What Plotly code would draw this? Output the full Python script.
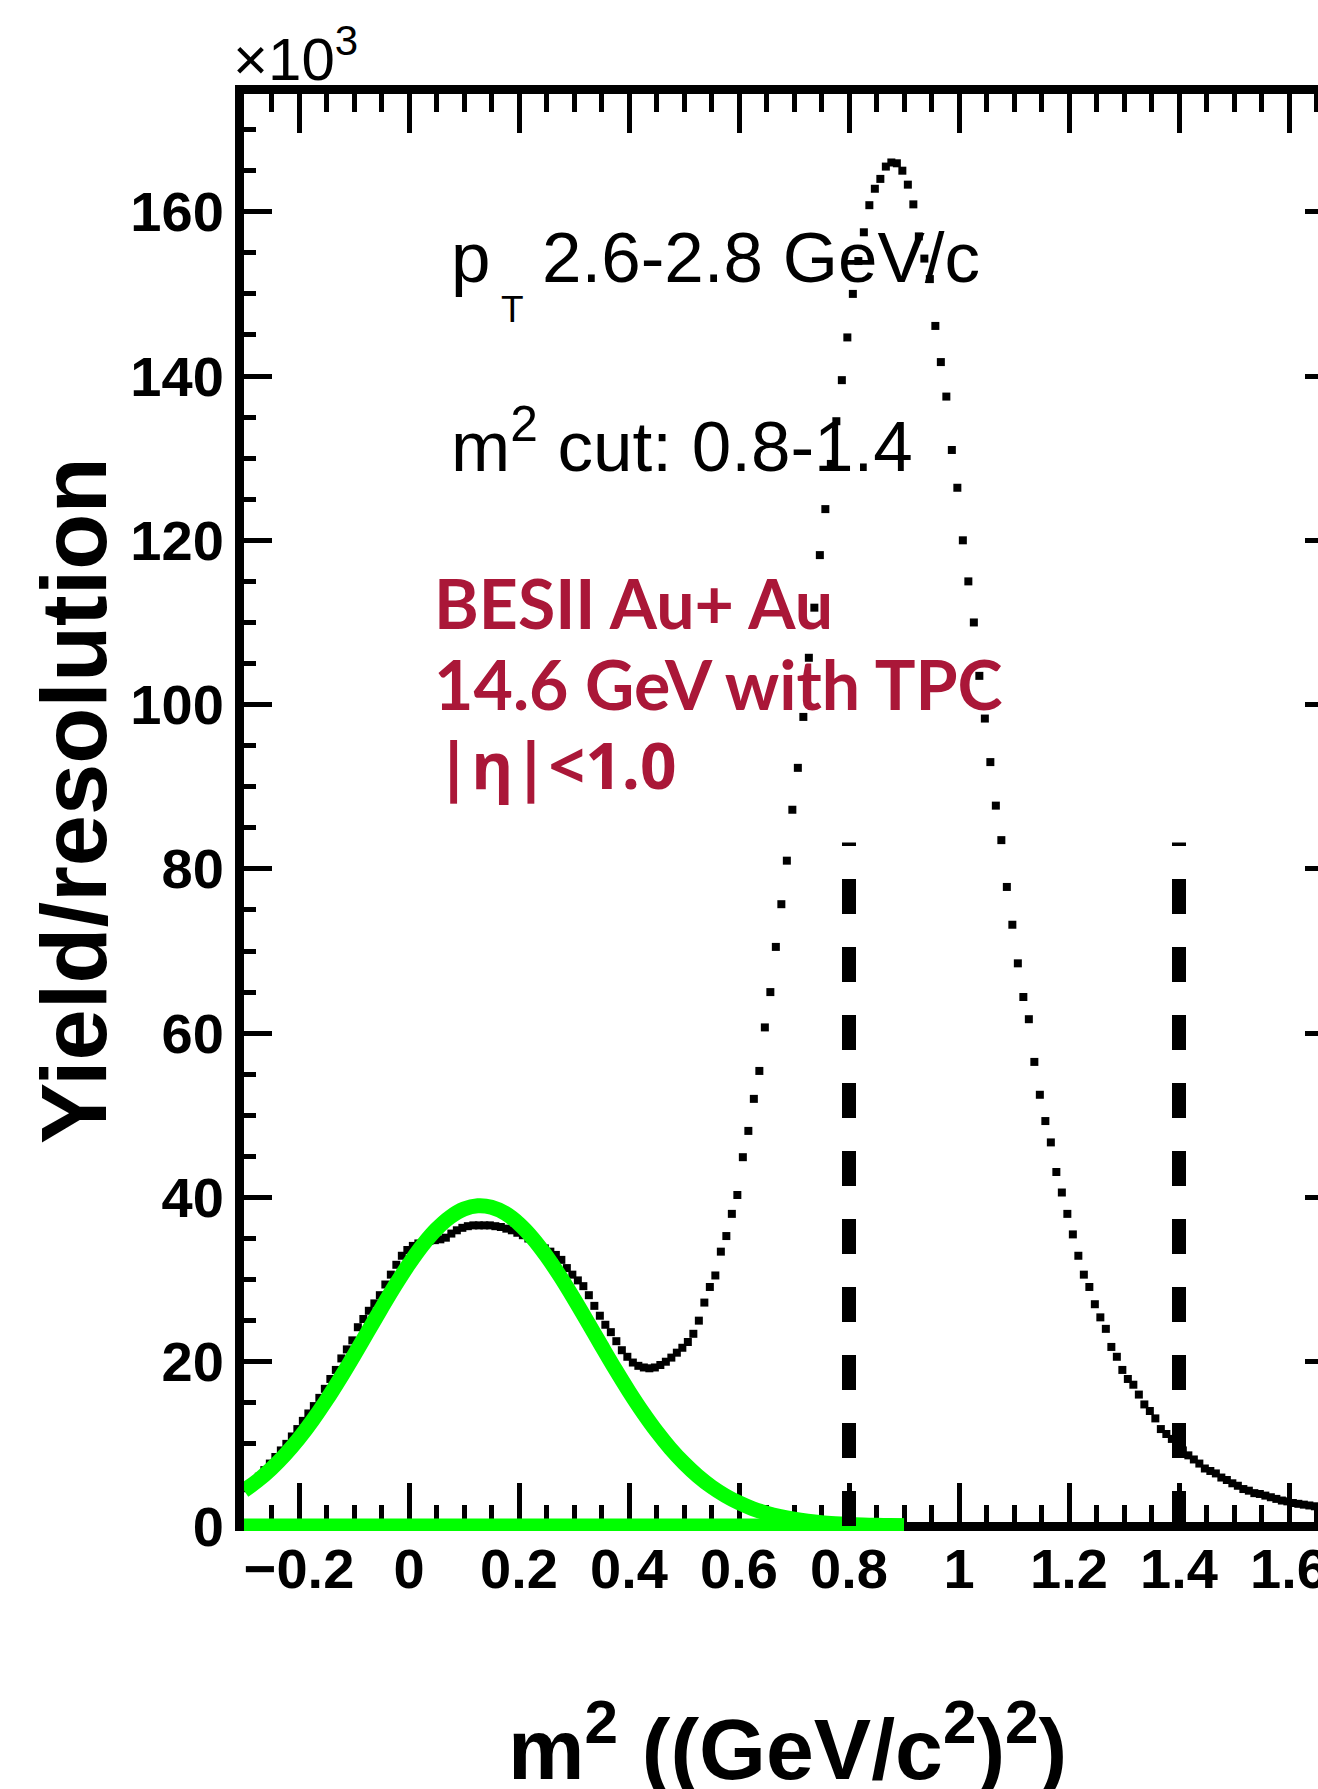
import plotly.graph_objects as go

# ---------------- data ----------------
# m^2 histogram: bin centres start at BIN_START, width BIN_WIDTH; yields in units of 10^3
BIN_START = -0.293
BIN_WIDTH = 0.01
yield_k = [
    4.6, 5.3, 6.0, 6.8, 7.6, 8.4, 9.2, 10.0, 10.9, 11.8,
    12.8, 13.7, 14.6, 15.6, 16.7, 17.9, 19.0, 20.4, 21.5, 22.6,
    24.2, 25.2, 26.2, 27.1, 28.1, 29.4, 30.6, 31.8, 32.9, 33.6,
    34.1, 34.4, 34.6, 34.7, 34.8, 34.9, 35.1, 35.6, 36.0, 36.3,
    36.5, 36.6, 36.6, 36.6, 36.6, 36.5, 36.4, 36.2, 36.0, 35.7,
    35.4, 35.0, 34.6, 34.2, 33.8, 33.4, 33.0, 32.4, 31.4, 30.6,
    29.9, 29.2, 28.1, 26.8, 25.6, 24.5, 23.6, 22.5, 21.4, 20.6,
    19.9, 19.5, 19.3, 19.2, 19.3, 19.6, 20.0, 20.5, 21.1, 21.7,
    22.4, 23.4, 25.0, 27.2, 29.1, 30.5, 33.4, 35.3, 38.0, 40.3,
    44.9, 48.1, 52.0, 55.4, 60.7, 65.0, 70.5, 75.7, 81.0, 87.2,
    92.3, 98.5, 105.7, 111.8, 118.2, 123.8, 129.3, 134.5, 139.5, 144.7,
    150.0, 154.0, 157.5, 160.8, 162.8, 164.0, 165.5, 166.0, 165.9, 165.0,
    163.3, 160.9, 157.0, 154.3, 151.8, 146.1, 141.7, 137.5, 131.0, 126.4,
    120.0, 115.0, 110.0, 103.5, 98.3, 93.0, 87.7, 83.5, 77.8, 73.2,
    68.5, 64.4, 61.7, 56.5, 52.5, 49.3, 46.7, 43.1, 40.6, 38.0,
    35.5, 32.9, 30.6, 29.1, 27.0, 25.4, 24.0, 21.8, 20.6, 19.0,
    17.9, 17.2, 16.0, 14.8, 14.0, 13.1, 11.8, 11.2, 10.6, 9.7,
    9.2, 8.6, 8.1, 7.6, 7.0, 6.7, 6.4, 5.9, 5.6, 5.2,
    4.9, 4.5, 4.3, 4.0, 3.9, 3.7, 3.5, 3.3, 3.1, 3.0,
    2.8, 2.7, 2.6, 2.5, 2.4,
]
m2_bins = [round(BIN_START + BIN_WIDTH * i, 3) for i in range(len(yield_k))]

# green fit curve (sampled every 0.025 from -0.3 to 0.9)
FIT_START = -0.3
FIT_STEP = 0.025
fit_y = [
    4.32, 5.54, 7.00, 8.71, 10.67, 12.89, 15.34, 17.99, 20.78, 23.65,
    26.52, 29.30, 31.89, 34.21, 36.14, 37.62, 38.59, 38.99, 38.81, 38.07,
    36.79, 35.03, 32.86, 30.37, 27.65, 24.81, 21.93, 19.09, 16.38, 13.85,
    11.53, 9.46, 7.65, 6.09, 4.78, 3.70, 2.82, 2.11, 1.56, 1.14,
    0.82, 0.58, 0.40, 0.28, 0.19, 0.12, 0.08, 0.05, 0.03,
]
fit_x = [round(FIT_START + FIT_STEP * i, 3) for i in range(len(fit_y))]

# flat green baseline
base_x = [-0.3, 0.9]
base_y = [0, 0]

# m^2 cut lines
cut_x = [0.8, 1.4]
cut_top = 83.2

# ---------------- geometry ----------------
W, H = 1318, 1789
ML, MT, MR = 244, 94, 0
Y0_PX = 1526          # pixel row of y = 0
PLOT_BOTTOM = 1531    # plot area extends a few px below y = 0
MB = H - PLOT_BOTTOM
PX_X = 550.0          # px per unit m^2
PX_Y = 8.214          # px per 10^3 counts
XMIN = -0.3
XMAX = XMIN + (W - ML - MR) / PX_X
YMIN = -(PLOT_BOTTOM - Y0_PX) / PX_Y
YMAX = (Y0_PX - MT) / PX_Y
PLOT_H = PLOT_BOTTOM - MT
PLOT_W = W - ML - MR


def dx(px):
    return XMIN + (px - ML) / PX_X


def dy(py):
    return (Y0_PX - py) / PX_Y


def pxp(px):
    return (px - ML) / PLOT_W


def pyp(py):
    return (PLOT_BOTTOM - py) / PLOT_H


fig = go.Figure()

# in-plot black labels (drawn below the data, like the reference)
# baseline = point + 0.25*size for textposition 'middle right'
lab_txt = ["p", "T", "2.6-2.8 GeV/c", "m<sup>2</sup> cut: 0.8-1.4"]
lab_size = [71, 37, 71, 71]
lab_xpx = [451, 501, 542, 451]
lab_base = [281.7, 322, 281.7, 471]
fig.add_trace(go.Scatter(
    x=[dx(p) for p in lab_xpx],
    y=[dy(b - 0.25 * s) for b, s in zip(lab_base, lab_size)],
    text=lab_txt,
    mode="text", textposition="middle right",
    textfont=dict(family="Liberation Sans", size=lab_size, color="black"),
    hoverinfo="skip", showlegend=False))

# red labels
RED = "#AA1738"
red_fs = 68
red_txt = ["BESII Au+ Au", "14.6 GeV with TPC"]
red_base = [629, 710]
fig.add_trace(go.Scatter(
    x=[dx(434)] * 2,
    y=[dy(b - 0.25 * red_fs) for b in red_base],
    text=red_txt,
    mode="text", textposition="middle right",
    textfont=dict(family="Lato", size=red_fs, color=RED, weight="bold"),
    hoverinfo="skip", showlegend=False))
eta_fs = 64
fig.add_trace(go.Scatter(
    x=[dx(436)], y=[dy(789 - 0.25 * eta_fs)], text=["|η|<1.0"],
    mode="text", textposition="middle right",
    textfont=dict(family="Open Sans", size=eta_fs, color=RED, weight="bold"),
    hoverinfo="skip", showlegend=False))

# histogram points
fig.add_trace(go.Scatter(
    x=m2_bins, y=yield_k, mode="markers",
    marker=dict(symbol="square", size=8, color="black", line=dict(width=0)),
    showlegend=False))

# green fit + baseline
fig.add_trace(go.Scatter(
    x=fit_x, y=fit_y, mode="lines",
    line=dict(color="rgb(0,255,0)", width=15, shape="spline"),
    showlegend=False))
fig.add_trace(go.Scatter(
    x=base_x, y=base_y, mode="lines", line=dict(color="rgb(0,255,0)", width=15),
    showlegend=False))

# cut lines
for cx in cut_x:
    fig.add_trace(go.Scatter(
        x=[cx, cx], y=[0, cut_top], mode="lines",
        line=dict(color="black", width=14, dash="35px,33px"),
        showlegend=False))

# dummy trace carrying the top / right tick axes
fig.add_trace(go.Scatter(x=[XMIN], y=[0], xaxis="x2", yaxis="y2", mode="markers",
                         marker=dict(opacity=0), hoverinfo="skip", showlegend=False))

tickfont = dict(family="Liberation Sans", size=56, color="black", weight="bold")

fig.update_layout(
    template="none",
    width=W, height=H,
    margin=dict(l=ML, r=MR, t=MT, b=MB, pad=0),
    paper_bgcolor="white", plot_bgcolor="white",
    showlegend=False,
    xaxis=dict(range=[XMIN, XMAX], showline=False,
               ticks="inside", ticklen=48, tickwidth=5, tickcolor="black",
               tick0=0, dtick=0.2,
               minor=dict(ticks="inside", ticklen=26, tickwidth=5, tickcolor="black",
                          tick0=0, dtick=0.05, showgrid=False),
               showgrid=False, zeroline=False, tickfont=tickfont, layer="below traces",
               ticklabeloverflow="allow", automargin=False, fixedrange=True),
    xaxis2=dict(range=[XMIN, XMAX], overlaying="x", side="top", anchor="y",
                showline=True, linewidth=9, linecolor="black",
                ticks="inside", ticklen=39, tickwidth=5, tickcolor="black",
                tick0=0, dtick=0.2,
                minor=dict(ticks="inside", ticklen=18, tickwidth=5, tickcolor="black",
                           tick0=0, dtick=0.05, showgrid=False),
                showticklabels=False, showgrid=False, zeroline=False,
                layer="below traces", automargin=False, fixedrange=True),
    yaxis=dict(range=[YMIN, YMAX], showline=True, linewidth=9, linecolor="black",
               mirror=False, ticks="inside", ticklen=28, tickwidth=5, tickcolor="black",
               tick0=0, dtick=20,
               minor=dict(ticks="inside", ticklen=12, tickwidth=5, tickcolor="black",
                          tick0=0, dtick=5, showgrid=False),
               showgrid=False, zeroline=True, zerolinecolor="black", zerolinewidth=9,
               tickfont=tickfont, layer="below traces",
               automargin=False, fixedrange=True),
    yaxis2=dict(range=[YMIN, YMAX], overlaying="y", side="right", anchor="x",
                showline=False, ticks="inside", ticklen=13, tickwidth=5, tickcolor="black",
                tick0=0, dtick=20, showticklabels=False, showgrid=False, zeroline=False,
                layer="below traces", automargin=False, fixedrange=True),
    annotations=[
        dict(text="Yield/resolution", textangle=-90, showarrow=False,
             xref="paper", yref="paper", x=pxp(74), y=pyp(801),
             xanchor="center", yanchor="middle",
             font=dict(family="Liberation Sans", size=92, color="black", weight="bold")),
        dict(text="×10<sup>3</sup>", showarrow=False,
             xref="paper", yref="paper", x=pxp(231), y=pyp(95),
             xanchor="left", yanchor="bottom",
             font=dict(family="Liberation Sans", size=60, color="black")),
        dict(text="m<sup>2</sup> ((GeV/c<sup>2</sup>)<sup>2</sup>)", showarrow=False,
             xref="paper", yref="paper", x=pxp(787), y=pyp(1742.8),
             xanchor="center", yanchor="middle",
             font=dict(family="Liberation Sans", size=86, color="black", weight="bold")),
    ],
)

fig.write_html("out.html")
